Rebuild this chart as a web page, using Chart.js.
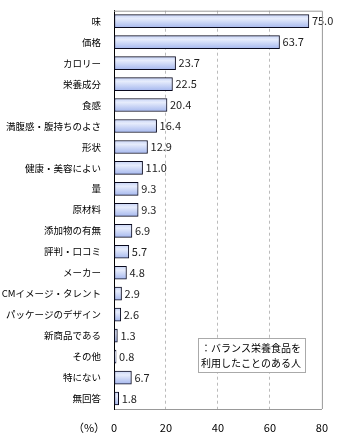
<!DOCTYPE html>
<html>
<head>
<meta charset="utf-8">
<script src="https://cdn.jsdelivr.net/npm/chart.js@4/dist/chart.umd.min.js"></script>
<style>
  html, body { margin: 0; padding: 0; background: #fff; }
  #wrap { width: 340px; height: 440px; }
</style>
</head>
<body>
<div id="wrap"><canvas id="reasonChart" width="340" height="440"></canvas></div>
<script>
// categories and values (%)
const categories = ['味', '価格', 'カロリー', '栄養成分', '食感', '満腹感・腹持ちのよさ', '形状', '健康・美容によい',
  '量', '原材料', '添加物の有無', '評判・口コミ', 'メーカー', 'CMイメージ・タレント', 'パッケージのデザイン',
  '新商品である', 'その他', '特にない', '無回答'];
const values = [75.0, 63.7, 23.7, 22.5, 20.4, 16.4, 12.9, 11.0, 9.3, 9.3, 6.9, 5.7, 4.8, 2.9, 2.6, 1.3, 0.8, 6.7, 1.8];
const xTicks = [0, 20, 40, 60, 80];
const legendLines = ['：バランス栄養食品を', '利用したことのある人'];
const unitLabel = '（%）';

const FONT = "'Noto Sans CJK JP', 'DejaVu Sans', sans-serif";

// bar fill: light blue gradient, computed per bar from the y scale
function barFill(context) {
  const chart = context.chart;
  const yScale = chart.scales.y;
  if (!yScale || context.dataIndex === undefined) return '#bccbf3';
  const yc = yScale.getPixelForValue(context.dataIndex);
  if (!isFinite(yc)) return '#bccbf3';
  const g = chart.ctx.createLinearGradient(0, yc - 6.5, 0, yc + 6.5);
  g.addColorStop(0, '#c9d5f7');
  g.addColorStop(0.3, '#e6ecfc');
  g.addColorStop(1, '#a6b8ee');
  return g;
}

// value labels at the end of each bar, plus frame, unit label and legend box
const extras = {
  id: 'extras',
  afterDatasetsDraw(chart) {
    const ctx = chart.ctx;
    const area = chart.chartArea;
    ctx.save();
    ctx.font = '11px ' + FONT;
    ctx.fillStyle = '#222';
    ctx.textAlign = 'left';
    ctx.textBaseline = 'middle';
    chart.getDatasetMeta(0).data.forEach((bar, i) => {
      ctx.fillText(values[i].toFixed(1), bar.x + 3, bar.y);
    });

    // top and right frame lines
    ctx.strokeStyle = '#999';
    ctx.lineWidth = 1;
    ctx.beginPath();
    ctx.moveTo(area.left, area.top + 0.5);
    ctx.lineTo(area.right + 0.5, area.top + 0.5);
    ctx.lineTo(area.right + 0.5, area.bottom);
    ctx.stroke();

    // unit label left of x ticks
    ctx.fillStyle = '#000';
    ctx.textAlign = 'center';
    ctx.font = '11px ' + FONT;
    ctx.fillText(unitLabel, 89, 428);

    // legend box
    const bx = 198, by = 338, bw = 107, bh = 34;
    ctx.fillStyle = '#fff';
    ctx.fillRect(bx, by, bw, bh);
    ctx.strokeStyle = '#aaa';
    ctx.strokeRect(bx + 0.5, by + 0.5, bw, bh);
    ctx.fillStyle = '#000';
    ctx.textAlign = 'left';
    ctx.font = '10px ' + FONT;
    ctx.fillText(legendLines[0], bx + 3, by + 10);
    ctx.fillText(legendLines[1], bx + 3, by + 25);
    ctx.restore();
  }
};

const config = {
  type: 'bar',
  data: {
    labels: categories,
    datasets: [{
      data: values,
      backgroundColor: barFill,
      borderColor: '#0a0a1e',
      borderWidth: 1,
      borderSkipped: false,
      barThickness: 13
    }]
  },
  options: {
    indexAxis: 'y',
    responsive: false,
    animation: false,
    layout: { padding: { top: 5, right: 17, left: 0, bottom: 0 } },
    plugins: {
      legend: { display: false },
      tooltip: { enabled: false }
    },
    scales: {
      x: {
        min: 0,
        max: 80,
        afterBuildTicks: (scale) => { scale.ticks = xTicks.map(v => ({ value: v })); },
        afterFit: (scale) => { scale.height = 31; },
        grid: {
          color: (c) => (c.tick && (c.tick.value === 0 || c.tick.value === 80)) ? 'rgba(0,0,0,0)' : '#bbb',
          drawTicks: false
        },
        border: { color: '#999', dash: [3, 3] },
        ticks: { color: '#000', padding: 12, font: { family: FONT, size: 11 } }
      },
      y: {
        afterFit: (scale) => { scale.width = 114; },
        grid: { display: false },
        border: { color: '#000' },
        ticks: { color: '#000', padding: 5, autoSkip: false, font: { family: FONT, size: 9.5 } }
      }
    }
  },
  plugins: [extras]
};

document.addEventListener('DOMContentLoaded', () => {
  new Chart(document.getElementById('reasonChart'), config);
});
</script>
</body>
</html>
